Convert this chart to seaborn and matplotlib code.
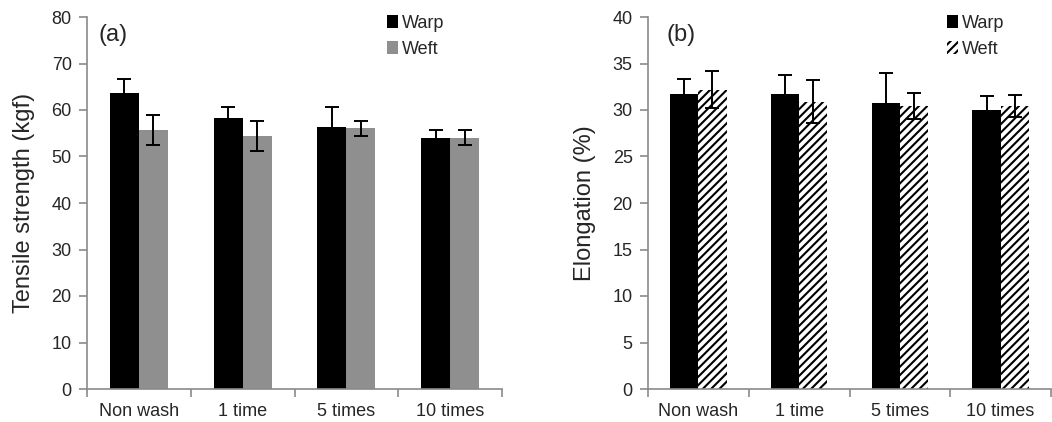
import matplotlib
matplotlib.use("Agg")
import matplotlib.pyplot as plt
import seaborn as sns
import pandas as pd
import numpy as np

categories = ["Non wash", "1 time", "5 times", "10 times"]
series = ["Warp", "Weft"]

tensile_warp = [63.7, 58.3, 56.3, 54.0]
tensile_warp_err = [3.0, 2.3, 4.3, 1.7]
tensile_weft = [55.7, 54.4, 56.1, 54.0]
tensile_weft_err = [3.2, 3.2, 1.6, 1.6]

elong_warp = [31.7, 31.7, 30.8, 30.0]
elong_warp_err = [1.6, 2.1, 3.2, 1.5]
elong_weft = [32.2, 30.9, 30.4, 30.4]
elong_weft_err = [2.0, 2.3, 1.4, 1.2]

sns.set_theme(style="white")
plt.rcParams["font.family"] = ["Liberation Sans", "DejaVu Sans"]
plt.rcParams["hatch.linewidth"] = 1.5
plt.rcParams["hatch.color"] = "black"

fig = plt.figure(figsize=(10.52, 4.22), dpi=100)
axA = fig.add_axes([87/1052, 1-389/422, (502-87)/1052, 372/422])
axB = fig.add_axes([648/1052, 1-389/422, (1051-648)/1052, 372/422])

spine_col = "#8a8a8a"
text_col = "#262626"


def make_df(warp, weft, werr, ferr):
    rows = []
    for c, v, e in zip(categories, warp, werr):
        rows.append({"cat": c, "series": "Warp", "val": v, "err": e})
    for c, v, e in zip(categories, weft, ferr):
        rows.append({"cat": c, "series": "Weft", "val": v, "err": e})
    return pd.DataFrame(rows)


def draw(ax, df, colors, ymax, ystep, ylabel, label, label_x, leg_x, hatch_weft):
    sns.barplot(data=df, x="cat", y="val", hue="series", order=categories,
                hue_order=series, palette=colors, errorbar=None,
                width=0.56, gap=0, saturation=1, ax=ax, linewidth=0,
                legend=True)
    bars = [p for p in ax.patches if p.get_height() > 0][:8]
    errs = list(df["err"])
    for i, p in enumerate(bars):
        if hatch_weft and i >= 4:
            p.set_facecolor("white")
            p.set_hatch("////")
            p.set_edgecolor("black")
            p.set_linewidth(0)
        xc = p.get_x() + p.get_width() / 2
        ax.errorbar(xc, p.get_height(), yerr=errs[i], fmt="none",
                    ecolor="black", elinewidth=1.4, capsize=5,
                    capthick=1.4, zorder=5)
    ax.set_ylim(0, ymax)
    ax.set_xlim(-0.5, 3.5)
    ax.set_yticks(np.arange(0, ymax + 0.1, ystep))
    ax.set_xlabel("")
    ax.set_ylabel(ylabel, fontsize=17, color=text_col, labelpad=12)
    for s in ["top", "right"]:
        ax.spines[s].set_visible(False)
    for s in ["left", "bottom"]:
        ax.spines[s].set_color(spine_col)
        ax.spines[s].set_linewidth(1.2)
    ax.tick_params(axis="y", which="major", length=6, width=1.2,
                   color=spine_col, direction="out", labelsize=13,
                   labelcolor=text_col, pad=5, left=True)
    ax.tick_params(axis="x", which="major", length=0, labelsize=13,
                   labelcolor=text_col, pad=10, bottom=True)
    ax.set_xticks(np.arange(-0.5, 3.6, 1.0), minor=True)
    ax.tick_params(axis="x", which="minor", length=6, width=1.2,
                   color=spine_col, direction="out", bottom=True)
    ax.text(label_x, 0.982, label, transform=ax.transAxes, fontsize=17,
            color=text_col, va="top", ha="left")
    handles, labels = ax.get_legend_handles_labels()
    if hatch_weft and len(handles) > 1:
        handles[1].set_facecolor("white")
        handles[1].set_hatch("////")
        handles[1].set_edgecolor("black")
        handles[1].set_linewidth(0)
    ax.legend(handles, labels, loc="upper left", frameon=False,
              fontsize=13, handlelength=0.6, handleheight=0.7,
              handletextpad=0.25, labelspacing=0.5, borderpad=0,
              borderaxespad=0, bbox_to_anchor=(leg_x, 1.006),
              labelcolor=text_col)


dfA = make_df(tensile_warp, tensile_weft, tensile_warp_err, tensile_weft_err)
dfB = make_df(elong_warp, elong_weft, elong_warp_err, elong_weft_err)

draw(axA, dfA, {"Warp": "black", "Weft": "#8f8f8f"}, 80, 10,
     "Tensile strength (kgf)", "(a)", 0.027, 0.723, False)
draw(axB, dfB, {"Warp": "black", "Weft": "white"}, 40, 5,
     "Elongation (%)", "(b)", 0.046, 0.742, True)

fig.savefig("out.png", dpi=100)
